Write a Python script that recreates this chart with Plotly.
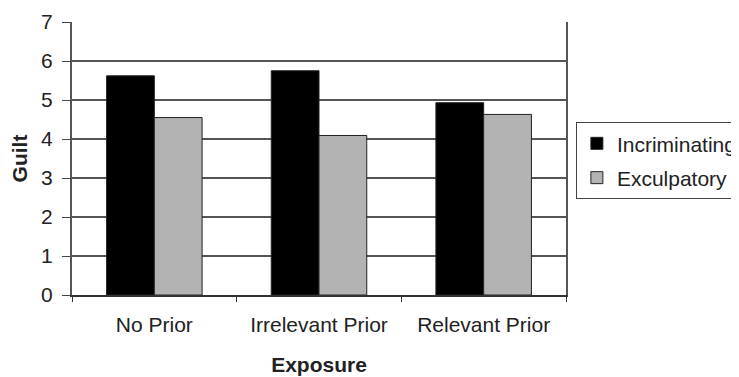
import plotly.graph_objects as go

categories = ["No Prior", "Irrelevant Prior", "Relevant Prior"]
incriminating = [5.62, 5.75, 4.93]
exculpatory = [4.55, 4.09, 4.63]
y_ticks = [0, 1, 2, 3, 4, 5, 6, 7]

FONT = "Liberation Sans, Arial, sans-serif"

fig = go.Figure()
fig.add_trace(go.Bar(x=categories, y=incriminating, name="Incriminating", legendgroup="a",
                     marker=dict(color="#000000", line=dict(color="#222222", width=1))))
fig.add_trace(go.Bar(x=categories, y=exculpatory, name="Exculpatory", legendgroup="b",
                     marker=dict(color="#b3b3b3", line=dict(color="#222222", width=1))))

# page body has an 8px margin, so the figure is 8px smaller than the window
fig.update_layout(
    width=731, height=369,
    margin=dict(l=64, r=173, t=14, b=82, autoexpand=False),
    paper_bgcolor="white", plot_bgcolor="white",
    barmode="group", bargap=0.42, bargroupgap=0,
    font=dict(family=FONT, size=21, color="#222222"),
    showlegend=True,
    legend=dict(x=1.02, y=0.633, xanchor="left", yanchor="top",
                bordercolor="#444444", borderwidth=1,
                font=dict(size=21), tracegroupgap=4,
                itemwidth=30),
)
fig.update_xaxes(
    type="category", showline=True, linecolor="#333333", linewidth=1.5,
    ticks="outside", tickson="boundaries", ticklen=5, tickcolor="#333333",
    ticklabelstandoff=10,
    showgrid=False, automargin=False,
    title=dict(text="<b>Exposure</b>", font=dict(size=21), standoff=22),
)
fig.update_yaxes(
    range=[0, 7], tickvals=y_ticks, showline=True, linecolor="#555555", linewidth=2,
    mirror=True, ticks="outside", ticklen=8, tickcolor="#444444",
    ticklabelstandoff=5,
    showgrid=True, gridcolor="#555555", gridwidth=1.5, zeroline=False,
    automargin=False,
    title=dict(text="<b>Guilt</b>", font=dict(size=21), standoff=12),
)

fig.write_html("out.html")
